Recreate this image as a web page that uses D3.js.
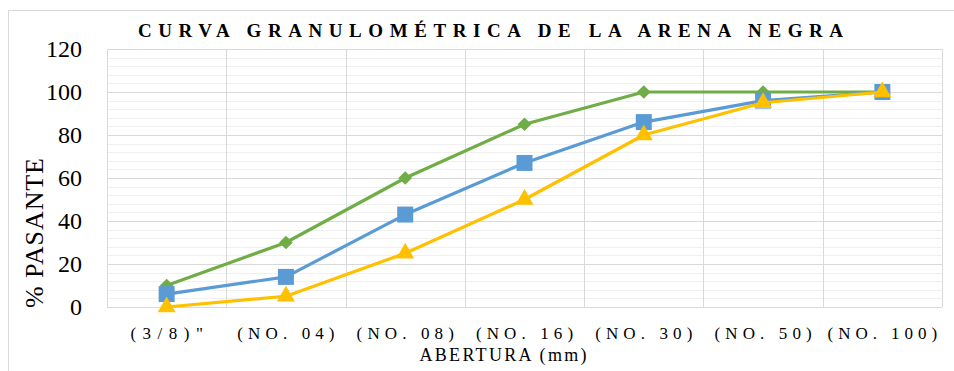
<!DOCTYPE html>
<html><head><meta charset="utf-8"><script src="https://cdn.jsdelivr.net/npm/d3@7"></script></head>
<body style="margin:0">
<svg id="chart" width="954" height="371"></svg>
<script>
// Sieve openings (categories)
const categories = ['(3/8)"', "(NO. 04)", "(NO. 08)", "(NO. 16)", "(NO. 30)", "(NO. 50)", "(NO. 100)"];
// % passing for each curve
const upperLimit = [10, 30, 60, 85, 100, 100, 100];   // green, diamonds
const sample     = [6, 14, 43, 67, 86, 96, 100];      // blue, squares
const lowerLimit = [0, 5, 25, 50, 80, 95, 100];       // yellow, triangles
const yTicks = [0, 20, 40, 60, 80, 100, 120];

const series = [
  { values: upperLimit, color: "#70ad47", symbol: d3.symbolDiamond2, size: 120 },
  { values: sample, color: "#5b9bd5", symbol: d3.symbolSquare, size: 256 },
  { values: lowerLimit, color: "#ffc000", symbol: d3.symbolTriangle, size: 140 }
];

const svg = d3.select("#chart");
const serif = t => t.style("font-family", '"Liberation Serif"');

const plot = { left: 107, right: 942, top: 49, bottom: 307 };
const x = d3.scaleBand().domain(categories).range([plot.left, plot.right]).padding(0);
const y = d3.scaleLinear().domain([0, 120]).range([plot.bottom, plot.top]);
const cx = c => x(c) + x.bandwidth() / 2;

// Layers: background, labels, plot
const bg = svg.append("g");
const labels = svg.append("g");
const plotG = svg.append("g");

// Title
labels.append("text")
  .attr("x", 490.5).attr("y", 37)
  .attr("text-anchor", "middle")
  .call(serif).style("font-size", "19px").style("font-weight", "bold")
  .attr("textLength", 705).attr("lengthAdjust", "spacing")
  .text("CURVA GRANULOMÉTRICA DE LA ARENA NEGRA");

// Y tick labels
labels.append("g").selectAll("text")
  .data(yTicks)
  .join("text")
  .attr("x", 82).attr("y", d => y(d))
  .attr("dy", "0.35em")
  .attr("text-anchor", "end")
  .call(serif).style("font-size", "24px")
  .text(d => d);

// X tick labels (spread like the original's spaced lettering)
labels.append("g").selectAll("text")
  .data(categories)
  .join("text")
  .attr("x", d => cx(d)).attr("y", 339)
  .attr("text-anchor", "middle")
  .call(serif).style("font-size", "17px")
  .attr("textLength", d => d.length * 12.4 - 2).attr("lengthAdjust", "spacing")
  .text(d => d);

// Axis titles
labels.append("text")
  .attr("transform", "translate(43,233) rotate(-90)")
  .attr("text-anchor", "middle")
  .call(serif).style("font-size", "26px")
  .attr("textLength", 150).attr("lengthAdjust", "spacing")
  .text("% PASANTE");

labels.append("text")
  .attr("x", 503).attr("y", 361)
  .attr("text-anchor", "middle")
  .call(serif).style("font-size", "18px")
  .attr("textLength", 167).attr("lengthAdjust", "spacing")
  .text("ABERTURA (mm)");

// Chart frame
bg.append("rect")
  .attr("x", 8.5).attr("y", 10.5)
  .attr("width", 960).attr("height", 380)
  .attr("fill", "#fff").attr("stroke", "#d9d9d9").attr("stroke-width", 1);

// Minor horizontal gridlines
bg.append("g").selectAll("line")
  .data(d3.range(0, 121, 4).filter(v => v % 20 !== 0))
  .join("line")
  .attr("x1", plot.left).attr("x2", plot.right)
  .attr("y1", d => Math.round(y(d)) + 0.5).attr("y2", d => Math.round(y(d)) + 0.5)
  .attr("stroke", "#f0f0f0").attr("stroke-width", 1);

// Major horizontal gridlines
bg.append("g").selectAll("line")
  .data(yTicks)
  .join("line")
  .attr("x1", plot.left).attr("x2", plot.right)
  .attr("y1", d => Math.round(y(d)) + 0.5).attr("y2", d => Math.round(y(d)) + 0.5)
  .attr("stroke", "#d9d9d9").attr("stroke-width", 1);

// Vertical gridlines at category boundaries
const bounds = categories.map(c => x(c)).concat([x(categories[categories.length - 1]) + x.bandwidth()]);
bg.append("g").selectAll("line")
  .data(bounds)
  .join("line")
  .attr("x1", d => Math.round(d) + 0.5).attr("x2", d => Math.round(d) + 0.5)
  .attr("y1", plot.top).attr("y2", plot.bottom)
  .attr("stroke", "#d9d9d9").attr("stroke-width", 1);

// Lines and markers
const line = d3.line().x((d, i) => cx(categories[i])).y(d => y(d));

series.forEach(s => {
  const sg = plotG.append("g");
  sg.append("path")
    .datum(s.values)
    .attr("d", line)
    .attr("fill", "none")
    .attr("stroke", s.color)
    .attr("stroke-width", 3.2)
    .attr("stroke-linejoin", "round");
  sg.selectAll("path.m")
    .data(s.values)
    .join("path")
    .attr("class", "m")
    .attr("transform", (d, i) => `translate(${cx(categories[i])},${y(d)})`)
    .attr("d", d3.symbol().type(s.symbol).size(s.size))
    .attr("fill", s.color);
});
</script></body></html>
